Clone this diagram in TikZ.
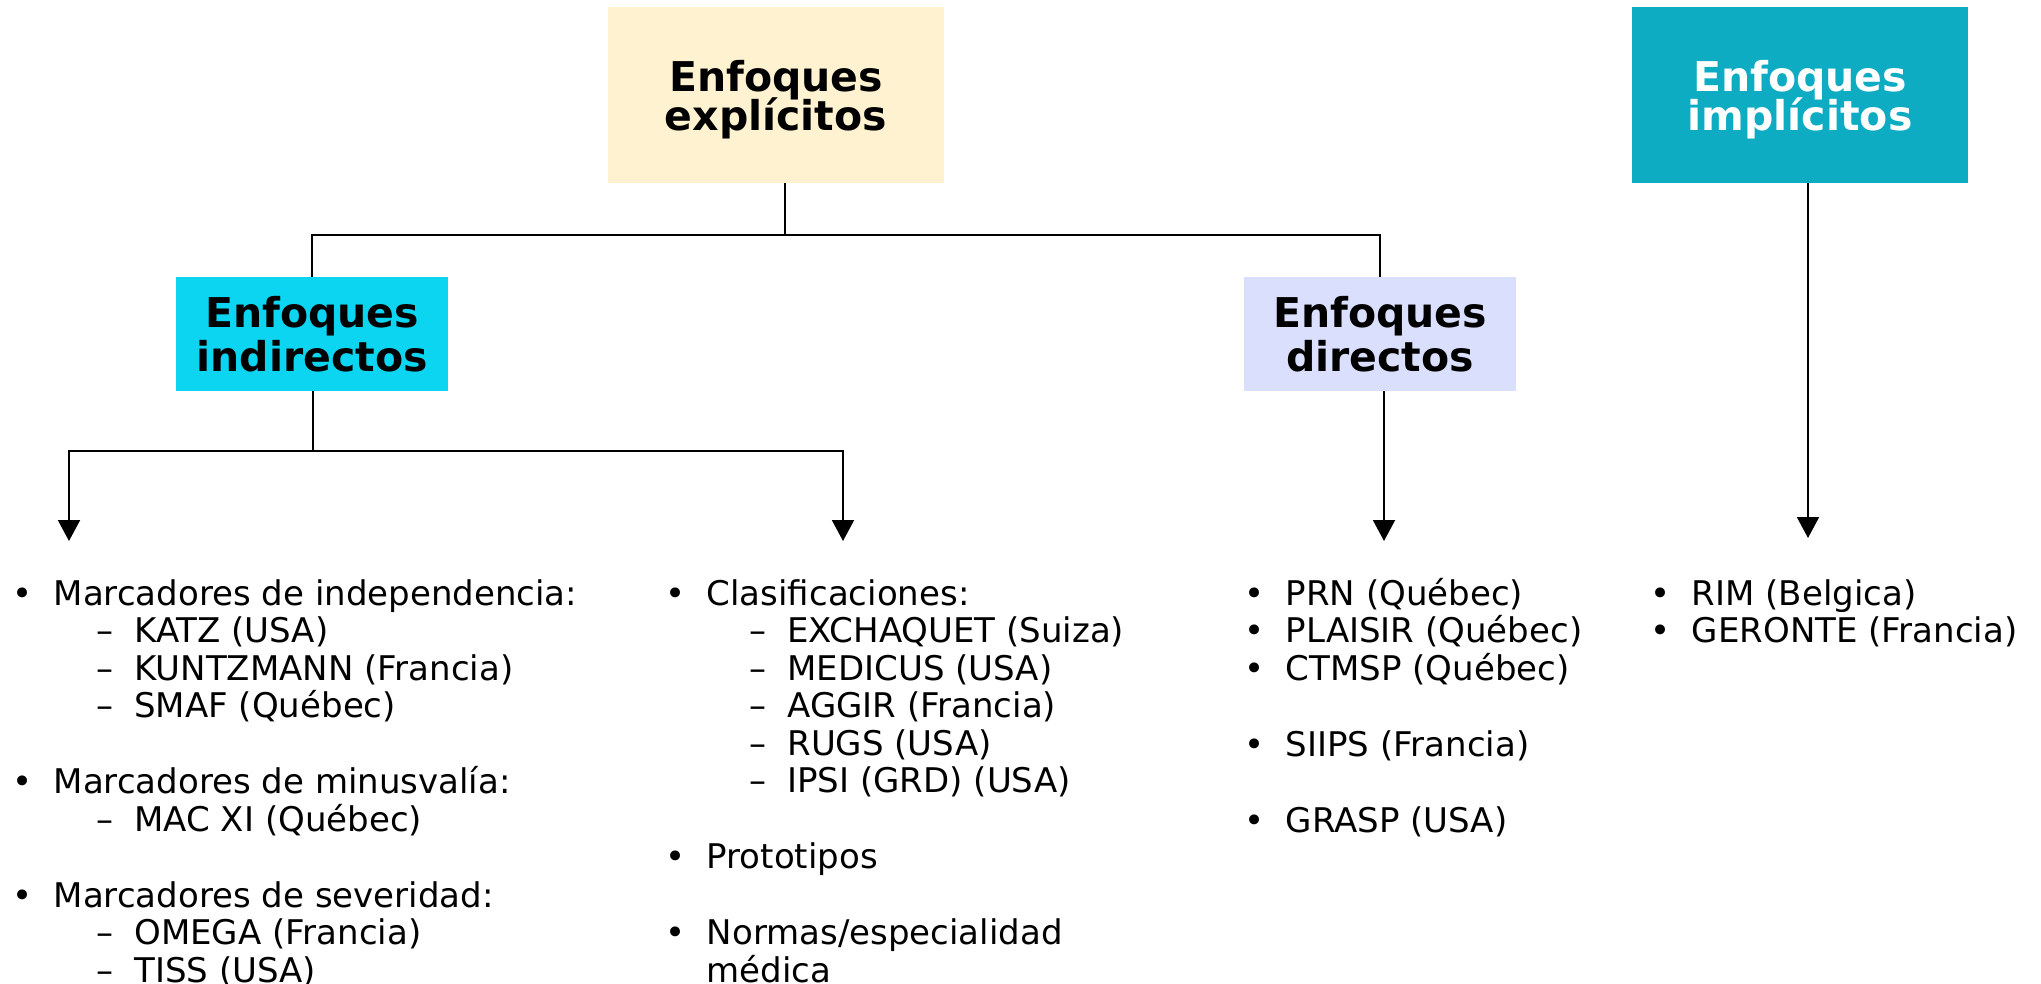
\documentclass[tikz,border=0pt]{standalone}
\usepackage{fontspec}
\setmainfont{DejaVu Sans}
\usetikzlibrary{arrows.meta}
\definecolor{explcol}{HTML}{FEF2D0}
\definecolor{implcol}{HTML}{0DACC2}
\definecolor{indcol}{HTML}{0CD5F1}
\definecolor{dircol}{HTML}{D9DFFC}
\newcommand\bitem[1]{\makebox[20.7pt][l]{•}#1}
\newcommand\ditem[1]{\hspace*{42pt}\makebox[19pt][l]{–}#1}
\newcommand\citem[1]{\hspace*{20.7pt}#1}
\begin{document}
\begin{tikzpicture}[x = 0.5pt, y = -0.5pt,
    head/.style = {rectangle, inner sep = 0pt, align = center, text depth = 0pt},
    bigbox/.style = {head, minimum width = 168pt, minimum height = 88pt, font = {\fontsize{20.5pt}{19.5pt}\selectfont\bfseries\lineskiplimit=-20pt}},
    smallbox/.style = {head, minimum width = 136pt, minimum height = 57pt, font = {\fontsize{20.5pt}{21.75pt}\selectfont\bfseries\lineskiplimit=-20pt}},
    list/.style = {anchor = base west, inner sep = 0pt, align = left, font = {\fontsize{17pt}{18.75pt}\selectfont\lineskiplimit=-20pt}},
    conn/.style = {line width = 1pt},
    arr/.style = {conn, -{Triangle[length = 10.5pt, width = 11pt]}}]
    \useasboundingbox (0, 0) rectangle (2041, 984);
    \node [bigbox, fill = explcol] (expl) at (776, 95) {Enfoques\\explícitos};
    \node [bigbox, fill = implcol, text = white] (impl) at (1800, 95) {Enfoques\\implícitos};
    \node [smallbox, fill = indcol] (ind) at (312, 334) {Enfoques\\indirectos};
    \node [smallbox, fill = dircol] (dir) at (1380, 334) {Enfoques\\directos};
    \coordinate (jtop) at (785, 235);
    \coordinate (jind) at (313, 451);
    \coordinate (tipa) at (69, 541);
    \coordinate (tipb) at (843, 541);
    \coordinate (tipc) at (1384, 541);
    \coordinate (tipd) at (1808, 538);
    \draw [conn] (expl.south -| jtop) -- (jtop);
    \draw [conn] (ind.north) |- (jtop) -| (dir.north);
    \draw [conn] (ind.south -| jind) -- (jind);
    \draw [arr] (jind) -| (tipa);
    \draw [arr] (jind) -| (tipb);
    \draw [arr] (dir.south -| tipc) -- (tipc);
    \draw [arr] (impl.south -| tipd) -- (tipd);
    \node [list] (indlist) at (12, 982) {\bitem{Marcadores de independencia:}\\
        \ditem{KATZ (USA)}\\
        \ditem{KUNTZMANN (Francia)}\\
        \ditem{SMAF (Québec)}\\[19.25pt]
        \bitem{Marcadores de minusvalía:}\\
        \ditem{MAC XI (Québec)}\\[19.25pt]
        \bitem{Marcadores de severidad:}\\
        \ditem{OMEGA (Francia)}\\
        \ditem{TISS (USA)}};
    \node [list] (clalist) at (665, 982) {\bitem{Clasificaciones:}\\
        \ditem{EXCHAQUET (Suiza)}\\
        \ditem{MEDICUS (USA)}\\
        \ditem{AGGIR (Francia)}\\
        \ditem{RUGS (USA)}\\
        \ditem{IPSI (GRD) (USA)}\\[19.25pt]
        \bitem{Prototipos}\\[19.25pt]
        \bitem{Normas/especialidad}\\
        \citem{médica}};
    \node [list] (dirlist) at (1244, 832) {\bitem{PRN (Québec)}\\
        \bitem{PLAISIR (Québec)}\\
        \bitem{CTMSP (Québec)}\\[19.25pt]
        \bitem{SIIPS (Francia)}\\[19.25pt]
        \bitem{GRASP (USA)}};
    \node [list] (impllist) at (1650, 642.5) {\bitem{RIM (Belgica)}\\
        \bitem{GERONTE (Francia)}};
\end{tikzpicture}
\end{document}
